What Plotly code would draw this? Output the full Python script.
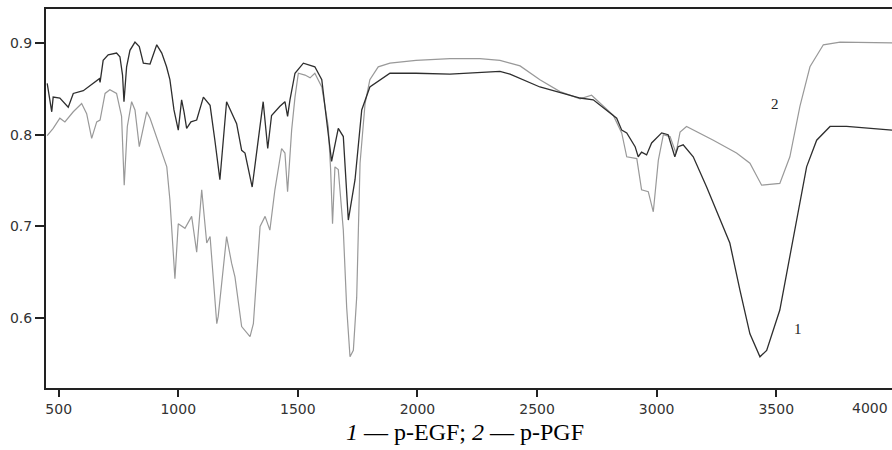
import plotly.graph_objects as go

# Curve 1 (p-EGF), dark
wn1 = [452, 471, 477, 505, 540, 561, 603, 645, 670, 673, 686, 707, 742, 756, 767, 773, 784, 798, 819, 837,
       854, 882, 910, 931, 951, 965, 982, 1000, 1014, 1024, 1035, 1053, 1077, 1105, 1133, 1153, 1174, 1202,
       1244, 1265, 1279, 1309, 1333, 1355, 1374, 1390, 1425, 1446, 1457, 1467, 1488, 1523, 1571, 1600, 1620,
       1641, 1669, 1690, 1711, 1739, 1767, 1801, 1885, 1994, 2136, 2261, 2345, 2387, 2512, 2680, 2735, 2833,
       2854, 2875, 2910, 2923, 2937, 2958, 2979, 3021, 3048, 3076, 3090, 3111, 3153, 3209, 3265, 3306, 3348,
       3390, 3432, 3460, 3515, 3571, 3627, 3669, 3725, 3794, 3984]
ab1 = [0.856, 0.825, 0.841, 0.840, 0.830, 0.845, 0.848, 0.856, 0.861, 0.857, 0.881, 0.887, 0.889, 0.885,
       0.865, 0.836, 0.874, 0.892, 0.901, 0.896, 0.878, 0.877, 0.898, 0.889, 0.874, 0.860, 0.827, 0.805,
       0.838, 0.825, 0.807, 0.814, 0.816, 0.841, 0.832, 0.794, 0.751, 0.836, 0.812, 0.783, 0.780, 0.743,
       0.794, 0.836, 0.785, 0.821, 0.831, 0.836, 0.820, 0.838, 0.867, 0.878, 0.874, 0.860, 0.816, 0.771,
       0.807, 0.798, 0.707, 0.751, 0.827, 0.852, 0.867, 0.867, 0.866, 0.868, 0.869, 0.866, 0.852, 0.840,
       0.838, 0.818, 0.805, 0.802, 0.787, 0.776, 0.781, 0.778, 0.791, 0.802, 0.800, 0.776, 0.787, 0.789,
       0.776, 0.743, 0.707, 0.682, 0.631, 0.583, 0.558, 0.565, 0.609, 0.685, 0.765, 0.794, 0.809, 0.809,
       0.805]

# Curve 2 (p-PGF), light
wn2 = [452, 477, 505, 526, 561, 596, 617, 638, 659, 673, 694, 714, 742, 763, 774, 787, 805, 819, 837, 868,
       882, 903, 931, 952, 965, 979, 986, 1000, 1028, 1056, 1077, 1098, 1119, 1133, 1161, 1167, 1202, 1223,
       1237, 1265, 1300, 1314, 1342, 1363, 1383, 1404, 1432, 1446, 1457, 1474, 1488, 1502, 1530, 1551, 1571,
       1600, 1627, 1637, 1645, 1655, 1669, 1690, 1704, 1718, 1732, 1746, 1760, 1781, 1801, 1836, 1885, 1994,
       2136, 2261, 2345, 2387, 2429, 2512, 2596, 2680, 2728, 2819, 2854, 2875, 2917, 2937, 2965, 2986, 3007,
       3028, 3056, 3081, 3098, 3125, 3237, 3334, 3390, 3439, 3515, 3557, 3599, 3641, 3697, 3767, 3984]
ab2 = [0.799, 0.807, 0.818, 0.814, 0.825, 0.834, 0.823, 0.796, 0.814, 0.816, 0.845, 0.849, 0.845, 0.820,
       0.745, 0.809, 0.836, 0.827, 0.787, 0.825, 0.818, 0.802, 0.781, 0.765, 0.729, 0.663, 0.643, 0.703,
       0.698, 0.711, 0.672, 0.740, 0.682, 0.689, 0.594, 0.602, 0.689, 0.660, 0.645, 0.591, 0.580, 0.594,
       0.700, 0.711, 0.696, 0.740, 0.785, 0.780, 0.738, 0.805, 0.841, 0.867, 0.865, 0.862, 0.867, 0.852,
       0.809, 0.762, 0.703, 0.765, 0.762, 0.696, 0.612, 0.558, 0.565, 0.623, 0.769, 0.834, 0.860, 0.874,
       0.878, 0.881, 0.883, 0.883, 0.881, 0.878, 0.875, 0.860, 0.847, 0.839, 0.843, 0.821, 0.802, 0.776,
       0.774, 0.740, 0.738, 0.716, 0.772, 0.800, 0.798, 0.780, 0.803, 0.809, 0.794, 0.780, 0.769, 0.745,
       0.747, 0.776, 0.831, 0.874, 0.898, 0.901, 0.900]

x_ticks = [500, 1000, 1500, 2000, 2500, 3000, 3500]
y_ticks = [0.6, 0.7, 0.8, 0.9]
caption = "<i>1</i> — p-EGF; <i>2</i> — p-PGF"

fig = go.Figure()
fig.add_trace(go.Scatter(x=wn2, y=ab2, mode="lines", line=dict(color="#999999", width=1.2), name="2"))
fig.add_trace(go.Scatter(x=wn1, y=ab1, mode="lines", line=dict(color="#2e2e2e", width=1.3), name="1"))

tickfont = dict(family="DejaVu Sans", size=14, color="#333333")
fig.update_layout(
    width=892, height=450,
    margin=dict(l=46, r=0, t=9, b=62, pad=0),
    paper_bgcolor="white", plot_bgcolor="white",
    showlegend=False,
    xaxis=dict(range=[447, 3984], tickvals=x_ticks, ticks="outside", ticklen=7, tickwidth=1.5,
               tickcolor="#222", showline=True, linecolor="#222", linewidth=2, mirror=True,
               showgrid=False, zeroline=False, tickfont=tickfont, automargin=False),
    yaxis=dict(range=[0.524, 0.937], tickvals=y_ticks, tickformat=".1f", ticks="outside", ticklen=9,
               tickwidth=1.5, tickcolor="#222", showline=True, linecolor="#222", linewidth=2,
               showgrid=False, zeroline=False, tickfont=tickfont, automargin=False),
)

fig.add_annotation(text="4000", xref="paper", yref="paper", x=0.998, y=-0.027, xanchor="right", yanchor="top",
                   showarrow=False, font=tickfont)
fig.add_annotation(text="2", x=3495, y=0.833, showarrow=False,
                   font=dict(family="Liberation Serif", size=15, color="#222"))
fig.add_annotation(text="1", x=3592, y=0.588, showarrow=False,
                   font=dict(family="Liberation Serif", size=15, color="#222"))
fig.add_annotation(text=caption, xref="paper", yref="paper", x=0.495, y=-0.116, xanchor="center",
                   yanchor="middle", showarrow=False,
                   font=dict(family="Liberation Serif", size=24, color="black"))

# remove the default page margin so the 892x450 figure fills the window exactly
fig.write_html("out.html", config={"displayModeBar": False},
               post_script="document.body.style.margin='0';document.body.style.overflow='hidden';")
